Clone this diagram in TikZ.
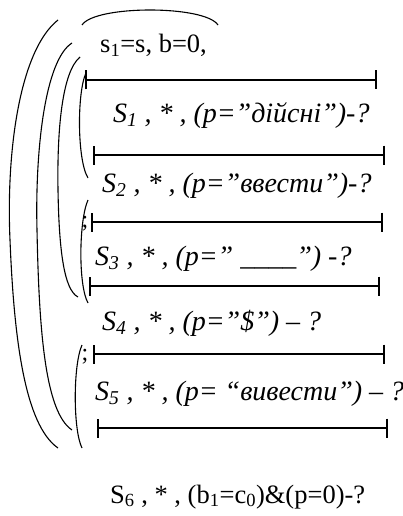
\documentclass[tikz,border=0pt]{standalone}
\usepackage{fontspec}
\setmainfont{Liberation Serif}
\usetikzlibrary{arrows.meta}

\begin{document}
\begin{tikzpicture}[x=1pt, y=-1pt,
  cond/.style={anchor=base west, inner sep=0pt,
    font=\fontsize{28}{33}\selectfont\itshape},
  plain/.style={anchor=base west, inner sep=0pt,
    font=\fontsize{26.5}{31}\selectfont},
  semi/.style={inner sep=0pt, font=\fontsize{24}{28}\selectfont},
  bar/.style={{Bar[width=19pt, line width=2.3pt]}-{Bar[width=19pt, line width=2.3pt]},
    line width=2pt},
  brace/.style={line width=1.1pt},
]
\useasboundingbox (0,0) rectangle (403,516);

% Texts of the steps.
\node[plain] (init) at (100,53) {s\textsubscript{1}=s, b=0,};
\node[cond] (real) at (113,122) {S\textsubscript{1} , * , (p=”дійсні”)-?};
\node[cond] (input) at (102,192) {S\textsubscript{2} , * , (p=”ввести”)-?};
\node[cond] (blank) at (95,265) {S\textsubscript{3} , * , (p=”~\_\_\_\_”) -?};
\node[cond] (dollar) at (102,330) {S\textsubscript{4} , * , (p=”\$”) – ?};
\node[cond] (output) at (95,400) {S\textsubscript{5} , * , (p= “вивести”) – ?};
\node[plain] (final) at (110,503)
  {S\textsubscript{6} , * , (b\textsubscript{1}=c\textsubscript{0})\&(p=0)-?};

\node[semi] (semiA) at (85,224) {;};
\node[semi] (semiB) at (85,357) {;};

% Bars.
\draw[bar] (85,80) -- (377,80);
\draw[bar] (93,155) -- (385,155);
\draw[bar] (91,222) -- (383,222);
\draw[bar] (89,286) -- (380,286);
\draw[bar] (93,354) -- (385,354);
\draw[bar] (97,428) -- (388,428);

% Loop brackets.
\draw[brace] (82,25) .. controls (95,5) and (205,5) .. (218,25);
\draw[brace] (58,20) .. controls (20,50) and (6,150) .. (10,240)
  .. controls (14,340) and (25,425) .. (58,448);
\draw[brace] (72,43) .. controls (45,60) and (35,150) .. (37,230)
  .. controls (39,330) and (45,412) .. (72,430);
\draw[brace] (80,57) .. controls (62,72) and (57,130) .. (58,190)
  .. controls (59,250) and (64,290) .. (78,297);
\draw[brace] (86,73) .. controls (77,92) and (77,160) .. (88,178);
\draw[brace] (88,200) .. controls (79,220) and (78,285) .. (88,303);
\draw[brace] (82,345) .. controls (73,365) and (73,430) .. (82,448);

\end{tikzpicture}
\end{document}
